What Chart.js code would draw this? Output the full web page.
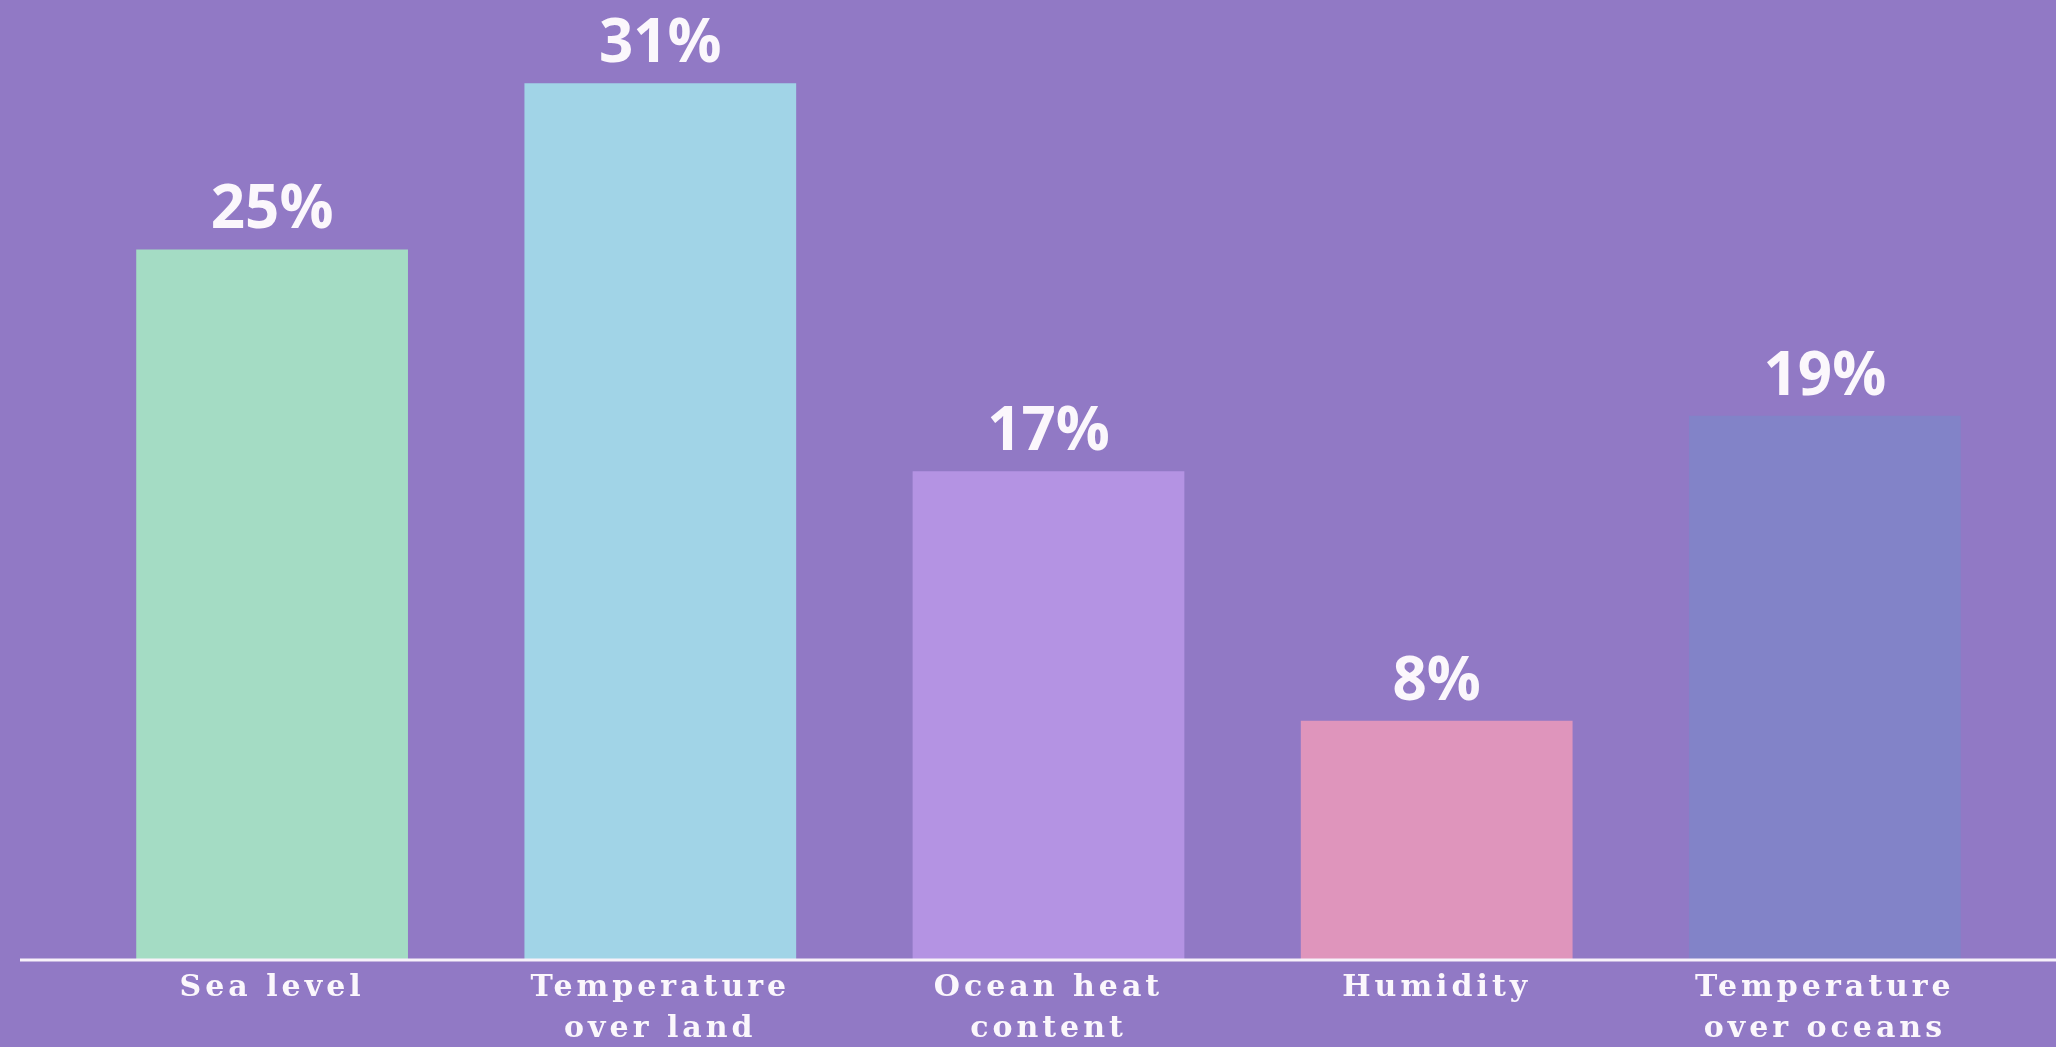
<!DOCTYPE html>
<html>
<head>
<meta charset="utf-8">
<script src="https://cdn.jsdelivr.net/npm/chart.js@4.4.1/dist/chart.umd.min.js"></script>
<style>
  html, body { margin: 0; padding: 0; background: #9179c5; overflow: hidden; }
  #wrap { width: 2056px; height: 1047px; position: relative; }
</style>
</head>
<body>
<div id="wrap"><canvas id="barChart"></canvas></div>
<script>
var categories = [
    'Sea level',
    ['Temperature', 'over land'],
    ['Ocean heat', 'content'],
    'Humidity',
    ['Temperature', 'over oceans']
];
var values = [25, 31, 17, 8, 19];
var barColors = ['#a4dcc4', '#a1d4e7', '#b493e3', '#df95bc', '#8283c8'];

// white baseline across the whole width, and the % labels above each bar
var decorations = {
    id: 'decorations',
    beforeDraw: function (chart) {
        chart.ctx.letterSpacing = '4px';
    },
    afterDraw: function (chart) {
        var ctx = chart.ctx;
        ctx.save();
        ctx.letterSpacing = '0px';
        ctx.strokeStyle = '#f7f1fa';
        ctx.lineWidth = 3;
        ctx.beginPath();
        ctx.moveTo(20, chart.chartArea.bottom + 1);
        ctx.lineTo(chart.width, chart.chartArea.bottom + 1);
        ctx.stroke();

        ctx.fillStyle = '#fbf7fc';
        ctx.font = 'bold 60px "Open Sans"';
        ctx.textAlign = 'center';
        ctx.textBaseline = 'alphabetic';
        chart.getDatasetMeta(0).data.forEach(function (bar, i) {
            ctx.fillText(values[i] + '%', bar.x, bar.y - 21);
        });
        ctx.restore();
    }
};

document.addEventListener('DOMContentLoaded', function () {
    var ctx = document.getElementById('barChart').getContext('2d');
    var barChart = new Chart(ctx, {
        type: 'bar',
        data: {
            labels: categories,
            datasets: [{
                data: values,
                backgroundColor: barColors,
                borderWidth: 0,
                base: -0.6,
                categoryPercentage: 1,
                barPercentage: 0.7
            }]
        },
        options: {
            responsive: true,
            maintainAspectRatio: false,
            animation: false,
            layout: { padding: { left: 78, right: 37, top: 0, bottom: 0 } },
            plugins: {
                legend: { display: false },
                tooltip: { enabled: false }
            },
            scales: {
                x: {
                    offset: true,
                    grid: { display: false, drawTicks: false },
                    border: { display: false },
                    ticks: {
                        color: '#fbf7fc',
                        font: { family: '"DejaVu Serif"', weight: 'bold', size: 30, lineHeight: 1.35 },
                        padding: 9,
                        maxRotation: 0,
                        autoSkip: false
                    },
                    afterFit: function (scale) { scale.height = 88; }
                },
                y: {
                    display: false,
                    min: -0.6,
                    max: 34
                }
            }
        },
        plugins: [decorations]
    });
});
</script>
</body>
</html>
